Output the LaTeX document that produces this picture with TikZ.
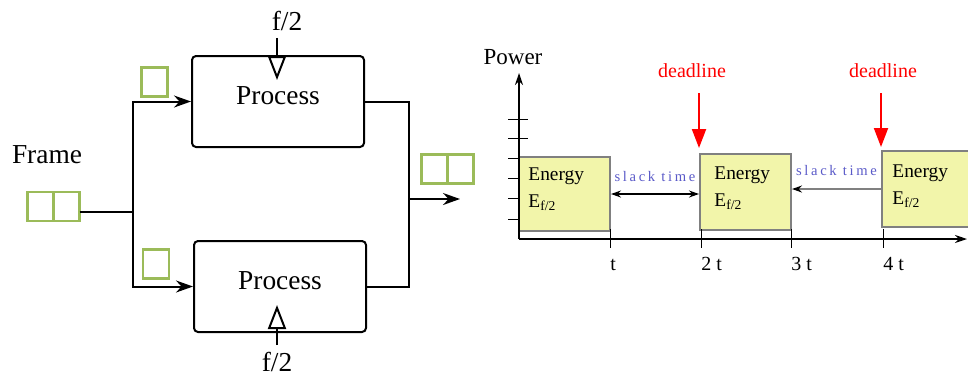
\documentclass[tikz,border=0pt]{standalone}
\usepackage{fontspec}
\setmainfont{Liberation Serif}
\newfontfamily\spacedfont[LetterSpace=18]{Liberation Serif}
\newfontfamily\tickfont[LetterSpace=25]{Liberation Serif}
\usetikzlibrary{arrows.meta,positioning,calc}
\definecolor{cellgreen}{RGB}{155,187,89}
\definecolor{enfill}{RGB}{242,245,170}
\definecolor{engray}{RGB}{128,128,128}
\definecolor{slackblue}{RGB}{90,90,200}

\begin{document}
\begin{tikzpicture}[x=0.5pt,y=-0.5pt,
  font=\fontsize{13.7}{16}\selectfont,
  procbox/.style={draw,line width=1pt,rounded corners=2pt,minimum width=86pt,
                  minimum height=45.5pt,text depth=6pt},
  cell/.style={draw=cellgreen,line width=1.2pt,minimum width=13pt,
               minimum height=14.5pt,inner sep=0pt,outer sep=0pt},
  flow/.style={line width=1pt,-{Stealth[length=8.5pt,width=6pt]}},
  ftip/.style={line width=1pt,-{Triangle[open,length=12pt,width=9pt]}},
  enbox/.style={draw=engray,fill=enfill,line width=1pt,minimum width=45.5pt,
                minimum height=37pt,inner sep=0pt},
  entext/.style={font=\fontsize{9.7}{13.5}\selectfont,align=left,inner sep=0pt,
                 anchor=north west},
  axis/.style={line width=0.8pt,-{Stealth[length=6pt,width=4pt]}},
  tick/.style={line width=0.5pt},
  tlabel/.style={font=\tickfont\fontsize{10}{12}\selectfont,anchor=base west,inner sep=0pt},
  slack/.style={font=\spacedfont\fontsize{7.3}{8}\selectfont,text=slackblue,
                inner sep=1pt,above=5pt},
  slackarr/.style={line width=0.6pt,{Stealth[length=5pt,width=3.5pt]}-{Stealth[length=5pt,width=3.5pt]}},
  dltext/.style={red,font=\fontsize{10}{12}\selectfont},
  dlarrow/.style={red,line width=1pt,-{Triangle[length=9.5pt,width=7pt]}}]
\useasboundingbox (0,0) rectangle (968,377);

% ---- splitting the frame ----
\node (frame) at (47,155) {Frame};
\node[cell] (fa) at (40.5,206.5) {};
\node[cell,right=0pt of fa] (fb) {};
\node[procbox] (ptop) at (278,101.5) {Process};
\node[procbox] (pbot) at (280,286.5) {Process};
\node[cell] (ctop) at (154.5,82) {};
\node[cell] (cbot) at (156,264) {};
\coordinate (jn) at (133,212);
\draw[line width=1pt] (fb.east |- jn) -- (jn);
\draw[flow] (jn) |- (ptop.west);
\draw[flow] (jn) |- (pbot.west);

% ---- half clock ----
\node (ftop) at (287,21) {f/2};
\node (fbot) at (277,362) {f/2};
\coordinate (ttip) at (277,80);
\coordinate (btip) at (277,305);
\draw[ftip] (ftop.south -| ttip) -- (ttip);
\draw[ftip] (fbot.north -| btip) -- (btip);

% ---- merging ----
\coordinate (mg) at (409,199);
\coordinate (outend) at (460,199);
\draw[line width=1pt] (ptop.east) -| (mg) |- (pbot.east);
\draw[flow] (mg) -- (outend);
\node[cell] (oa) at (434.5,169) {};
\node[cell,right=0pt of oa] (ob) {};

% ---- power over time ----
\coordinate (org) at (519,239);
\coordinate (ytop) at (519,73);
\coordinate (xend) at (967,239);
\node[font=\fontsize{11.5}{14}\selectfont] (power) at (513,57) {Power};
\foreach \ty in {119,138,158,178,198,219}
  \draw[tick] (508,\ty) -- (528,\ty);
\node[enbox] (e1) at (564.5,194) {};
\node[enbox,minimum height=38pt] (e2) at (745.5,192) {};
\node[enbox,minimum height=38pt] (e3) at (927.5,189) {};
\node[entext] (t1) at ([shift={(10,11)}]e1.north west) {Energy\\E\textsubscript{f/2}};
\node[entext] (t2) at ([shift={(15,13)}]e2.north west) {Energy\\E\textsubscript{f/2}};
\node[entext] (t3) at ([shift={(11,14)}]e3.north west) {Energy\\E\textsubscript{f/2}};
\draw[axis] (org) -- (ytop);
\draw[axis] (org) -- (xend);
\foreach \tx/\tl in {610/t,701/2t,791/3t,883/4t} {
  \draw[tick] (\tx,229) -- (\tx,248);
  \node[tlabel] (tk-\tx) at (\tx,270) {\tl};
}

% ---- slack and deadlines ----
\draw[slackarr] (e1.east) -- node[slack] (sl1) {slack time} (e2.west |- e1.east);
\draw[engray,line width=1pt,-{Stealth[black,length=5pt,width=3.5pt]}]
  (e3.west) -- node[slack] (sl2) {slack time} (e2.east |- e3.west);
\node[dltext] (dl1) at (692,71) {deadline};
\node[dltext] (dl2) at (883,71) {deadline};
\draw[dlarrow] ($(dl1.south -| e2.north west)+(0,8)$) -- ($(e2.north west)+(0,-5)$);
\draw[dlarrow] ($(dl2.south -| e3.north west)+(0,8)$) -- ($(e3.north west)+(0,-3)$);
\end{tikzpicture}
\end{document}
